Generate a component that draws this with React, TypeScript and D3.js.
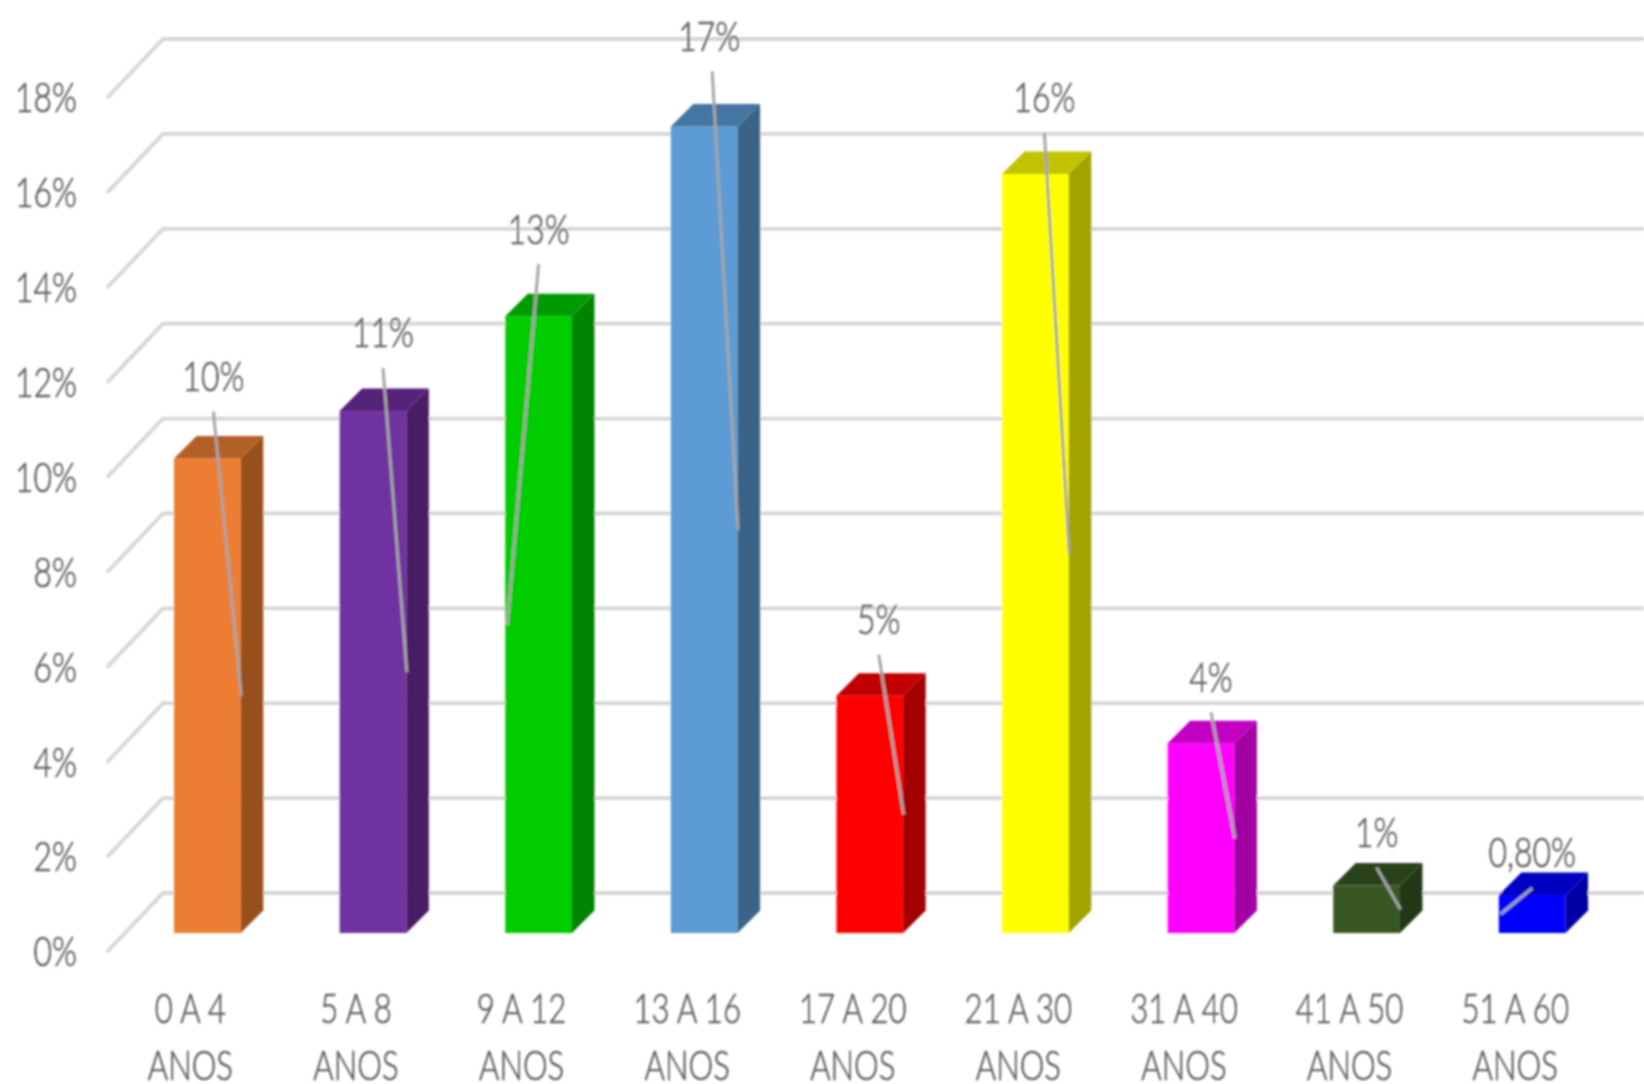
import React from "react";
import * as d3 from "d3";

const categories = ["0 A 4", "5 A 8", "9 A 12", "13 A 16", "17 A 20", "21 A 30", "31 A 40", "41 A 50", "51 A 60"];
const values = [10, 11, 13, 17, 5, 16, 4, 1, 0.8];
const valueLabels = ["10%", "11%", "13%", "17%", "5%", "16%", "4%", "1%", "0,80%"];
const barColors = ["#ED7D31", "#7030A0", "#00CC00", "#5B9BD5", "#FF0000", "#FFFF00", "#FF00FF", "#385723", "#0000FF"];
const yTicks = [0, 2, 4, 6, 8, 10, 12, 14, 16, 18];
const leaderRise = [47, 43, 52, 55, 41, 41, 31, 18, 7];
const leaderShift = [6, 10, 0, 8, 9, 9, 10, 10, 0];
const leaderEndsLeft = [false, false, true, false, false, false, false, false, true];

const W = 1644, H = 1084, DEPTH = 22.5;
const FONT = "Lato, 'Open Sans', sans-serif";
const TEXT = "#5f5f5f";

function shade(c: string, k: number) {
  const r = d3.rgb(c);
  return d3.rgb(r.r * k, r.g * k, r.b * k).formatHex();
}

function Label({ x, y, anchor = "middle", children, size = 42 }: any) {
  return (
    <text transform={`translate(${x},${y}) scale(0.76,1)`} textAnchor={anchor} fontFamily={FONT} fontWeight={300}
      fontSize={size} fill={TEXT} stroke={TEXT} strokeWidth={0.7} dominantBaseline="central">{children}</text>
  );
}

export default function App() {
  const x = d3.scaleBand<string>().domain(categories).range([124.6, 1615]).paddingInner(0.597).paddingOuter(0.2985);
  const y = d3.scaleLinear().domain([0, 18]).range([933, 79]);
  const bw = x.bandwidth();
  return (
    <svg width={W} height={H} viewBox={`0 0 ${W} ${H}`} style={{ position: "fixed", left: 0, top: 0, background: "#fff" }}>
      <defs>
        <filter id="soft" x="-5%" y="-5%" width="110%" height="110%"><feGaussianBlur stdDeviation="0.8" /></filter>
      </defs>
      <g filter="url(#soft)">
        {yTicks.map((t) => (
          <g key={t}>
            <path d={`M107,${y(t) + 19}L163,${y(t) - 40}H${W}`} fill="none" stroke="#d6d6d6" strokeWidth={3.8} />
            <Label x={77} y={y(t) + 17} anchor="end">{`${t}%`}</Label>
          </g>
        ))}
        {categories.map((c, i) => {
          const x0 = x(c)!, x1 = x0 + bw, top = y(values[i]), base = y(0);
          const col = barColors[i];
          const cx = x0 + bw / 2;
          const lx = cx + leaderShift[i];
          const ly = top - leaderRise[i];
          const ex = leaderEndsLeft[i] ? x0 + 2 : x1 + 0.5;
          const ey = y(values[i] / 2);
          const words = [c, "ANOS"];
          return (
            <g key={c}>
              <rect x={x0} y={top} width={bw} height={base - top} fill={col} />
              <path d={`M${x1},${top}l${DEPTH},${-DEPTH}V${base - DEPTH}L${x1},${base}Z`} fill={shade(col, 0.64)} />
              <path d={`M${x0},${top}l${DEPTH},${-DEPTH}H${x1 + DEPTH}L${x1},${top}Z`} fill={shade(col, 0.76)} />
              <line x1={lx} y1={ly} x2={ex} y2={ey} stroke="#a6a6a6" strokeWidth={3} />
              <Label x={lx + (i === 6 || i === 7 ? 0 : i === 3 ? -3 : 0)} y={ly - 37}>{valueLabels[i]}</Label>
              <Label x={cx - 17} y={1007} size={41}>{words[0]}</Label>
              <Label x={cx - 17} y={1064} size={41}>{words[1]}</Label>
            </g>
          );
        })}
      </g>
    </svg>
  );
}
